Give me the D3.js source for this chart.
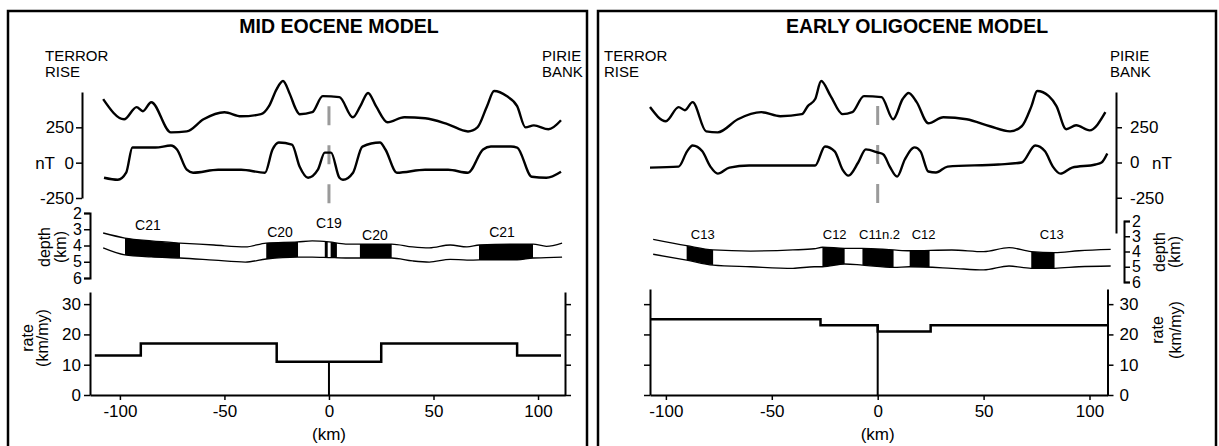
<!DOCTYPE html>
<html>
<head>
<meta charset="utf-8">
<script src="https://cdn.jsdelivr.net/npm/d3@7"></script>
<style>
  body { margin: 0; background: #fff; }
  svg { font-family: "Liberation Sans", Arial, Helvetica, sans-serif; }
</style>
</head>
<body>
<svg width="1219" height="446"></svg>
<script>
(function (d3) {
  'use strict';

  // ---- values ----
  var kmTicks = [-100, -50, 0, 50, 100],
      magTicks = [-250, 0, 250],
      depthTicks = [2, 3, 4, 5, 6],
      rateTicks = [0, 10, 20, 30];

  // mid eocene: [km, nT]
  var eoceneObserved = [[-108, 450], [-98, 307], [-92, 393], [-89, 364], [-85, 428], [-75.6, 214],
    [-68, 221], [-60, 307], [-50, 357], [-42, 328], [-32.5, 343], [-28.7, 400], [-25, 521],
    [-22, 578], [-18.7, 485], [-15.8, 378], [-14, 343], [-8, 357], [-3, 471], [5, 464],
    [11.4, 321], [15, 400], [18.7, 493], [22.5, 400], [28, 286], [36, 321], [46, 314],
    [57, 271], [66.5, 221], [71, 250], [75.6, 400], [79, 507], [85, 471], [90, 400],
    [94, 250], [98, 264], [105, 236], [111, 300]];
  var eoceneModel = [[-107.6, -107], [-101, -121], [-97, -71], [-94, 107], [-90, 107], [-83, 107],
    [-75.6, 121], [-72.7, 93], [-68, -50], [-65, -71], [-53, -50], [-42, -50], [-30.6, -71],
    [-27, 93], [-24, 143], [-17.7, 128], [-14, -29], [-10, -107], [-5.3, -50], [-2, 71],
    [1, 71], [5, -107], [6.7, -121], [11.5, -71], [16, 114], [24.4, 143], [27, 93],
    [32.5, -71], [46, -50], [57, -50], [66.5, -71], [73.7, 93], [77.5, 114], [87, 114],
    [90, 107], [97, -100], [104, -107], [111, -64]];
  // [km, top depth, bottom depth] of the magnetised layer
  var eoceneLayer = [[-108, 3.23, 4.15], [-97.6, 3.54, 4.58], [-85, 3.72, 4.70], [-71.3, 3.85, 4.77],
    [-55, 3.97, 4.90], [-40, 4.09, 5.02], [-30, 3.85, 4.83], [-15, 3.78, 4.71], [-8, 3.72, 4.71],
    [0, 3.78, 4.74], [8, 3.91, 4.77], [30, 3.91, 4.77], [40, 4.09, 4.95], [48, 4.15, 5.02],
    [58, 3.97, 4.85], [66, 4.09, 4.90], [72, 3.97, 4.89], [90, 3.91, 4.89], [97.6, 3.91, 4.77],
    [104, 4.05, 4.75], [111.5, 3.85, 4.71]];
  var eoceneBlocks = [[-97.6, -71.3], [-30, -14.8], [-2, -0.6], [0.8, 3.8], [14.8, 30], [71.8, 97.6]];
  var eoceneChrons = [["C21", -86.6], ["C20", -23.4], ["C19", 0], ["C20", 22], ["C21", 82.8]];
  var eoceneRate = [[-112, 13], [-90, 17], [-25, 11], [25, 17], [90, 13], [111, 13]];
  var eoceneRidgeRate = 11;

  // early oligocene
  var oligoObserved = [[-107.5, 393], [-100, 293], [-94, 393], [-91, 371], [-87.4, 428], [-81, 221],
    [-75.5, 214], [-66, 307], [-55, 357], [-46, 328], [-35.8, 343], [-33, 400], [-29.5, 450],
    [-26.7, 578], [-22.2, 471], [-16.6, 343], [-12, 357], [-6.5, 471], [1.8, 464], [7.3, 307],
    [11.8, 450], [14.6, 493], [18.4, 428], [23.9, 278], [31, 321], [42, 307], [53, 257],
    [62.5, 221], [68, 257], [72.6, 400], [75.3, 507], [80.8, 471], [84.4, 400], [89, 236],
    [93.7, 264], [100, 228], [107.5, 357]];
  var oligoModel = [[-107.5, -36], [-94, -29], [-90, 79], [-87.4, 121], [-82.8, 79], [-79, -29],
    [-75.5, -79], [-70, -36], [-60.7, -21], [-44, -21], [-29.5, -21], [-24.9, 114], [-20.3, 79],
    [-16.6, -50], [-13.8, -93], [-9.2, 0], [-5.6, 93], [0, 71], [2.7, 57], [5.7, -29],
    [9.2, -100], [12.8, 21], [17.4, 107], [20.2, 79], [23.9, -64], [27.5, -71], [33, -29],
    [57, -14], [68, 0], [74.4, 121], [79, 79], [82.7, -29], [86.3, -79], [91.8, -36],
    [102.8, -14], [105.7, 0], [108.4, 64]];
  var oligoLayer = [[-106, 3.20, 4.18], [-90.2, 3.62, 4.56], [-77.7, 3.90, 4.89], [-60, 3.97, 5.00],
    [-40, 3.90, 5.10], [-30, 3.82, 5.00], [-26, 3.72, 5.00], [-15.6, 3.79, 4.82], [-7.2, 3.79, 4.89],
    [7.5, 3.90, 5.04], [15, 3.95, 5.00], [35, 3.90, 5.10], [50, 4.01, 5.21], [62, 3.75, 4.95],
    [72.5, 4.01, 5.10], [83.5, 4.08, 5.10], [95, 3.95, 5.00], [110, 3.86, 4.95]];
  var oligoBlocks = [[-90.2, -77.7], [-26.1, -15.6], [-7.2, 7.5], [15.1, 24.5], [72.5, 83.5]];
  var oligoChrons = [["C13", -82.6], ["C12", -20.3], ["C11n.2", 0.9], ["C12", 21.7], ["C13", 82.2]];
  var oligoRate = [[-107.5, 25], [-27, 23], [0, 21], [25, 23], [108.5, 23]];
  var oligoRidgeRate = 23;

  var ridgeDash = [400, -320];   // nT extent of the grey ridge marker

  // ---- layout ----
  var panels = [
    {
      id: "eo", frame: [8, 11, 579, 450], title: "MID EOCENE MODEL", titleX: 339,
      leftSiteX: 45, rightSiteX: 542,
      xDomain: [-114.3, 112.9], xRange: [90, 565],
      magDomain: [-250, 500], magRange: [198, 92], magX: 82, side: "left",
      depRange: [213, 278], depX: 90,
      rateDomain: [0, 34], rateRange: [395, 292],
      chronY: [230, 237, 228, 240, 237],
      observed: eoceneObserved, model: eoceneModel, layer: eoceneLayer, blocks: eoceneBlocks,
      chrons: eoceneChrons, rate: eoceneRate, ridgeRate: eoceneRidgeRate,
      nT: [55, "end"], depthLab: [50, 66, 247], rateLab: [33, 48, 338]
    },
    {
      id: "ol", frame: [598, 11, 618, 450], title: "EARLY OLIGOCENE MODEL", titleX: 917,
      leftSiteX: 604, rightSiteX: 1110,
      xDomain: [-107.5, 108.5], xRange: [650, 1107.5],
      magDomain: [-500, 500], magRange: [233, 92], magX: 1116, side: "right",
      depRange: [221, 282], depX: 1124,
      rateDomain: [0, 35], rateRange: [395, 289],
      chronY: [239, 239, 239, 239, 239],
      observed: oligoObserved, model: oligoModel, layer: oligoLayer, blocks: oligoBlocks,
      chrons: oligoChrons, rate: oligoRate, ridgeRate: oligoRidgeRate,
      nT: [1152, "start"], depthLab: [1165, 1180, 252], rateLab: [1163, 1181, 330]
    }
  ];

  var svg = d3.select("svg");
  var plain = function (d) { return String(d); };   // hyphen minus, no decimals

  function styleAxis(sel, size) {
    sel.attr("font-size", size).attr("font-family", null);
    sel.selectAll("text").attr("fill", "#000");
    sel.select(".domain").attr("stroke", "#000").attr("stroke-width", 2);
    sel.selectAll(".tick line").attr("stroke", "#000").attr("stroke-width", 1.5);
  }

  function vText(g, txt, x, y) {
    g.append("text")
      .attr("transform", "translate(" + x + "," + y + ") rotate(-90)")
      .attr("text-anchor", "middle")
      .attr("font-size", 16)
      .text(txt);
  }

  panels.forEach(function (p) {
    var g = svg.append("g");

    var x = d3.scaleLinear().domain(p.xDomain).range(p.xRange),
        yMag = d3.scaleLinear().domain(p.magDomain).range(p.magRange),
        yDep = d3.scaleLinear().domain([2, 6]).range(p.depRange),
        yRate = d3.scaleLinear().domain(p.rateDomain).range(p.rateRange);

    g.append("rect")
      .attr("x", p.frame[0]).attr("y", p.frame[1])
      .attr("width", p.frame[2]).attr("height", p.frame[3])
      .attr("fill", "none").attr("stroke", "#000").attr("stroke-width", 2.5);

    g.append("text")
      .attr("x", p.titleX).attr("y", 33)
      .attr("text-anchor", "middle")
      .attr("font-size", 19.5).attr("font-weight", "bold")
      .text(p.title);

    [["TERROR", "RISE", p.leftSiteX], ["PIRIE", "BANK", p.rightSiteX]].forEach(function (s) {
      g.append("text").attr("x", s[2]).attr("y", 61).attr("font-size", 15).text(s[0]);
      g.append("text").attr("x", s[2]).attr("y", 77).attr("font-size", 15).text(s[1]);
    });

    // magnetic anomalies
    var magLine = d3.line()
      .x(function (d) { return x(d[0]); })
      .y(function (d) { return yMag(d[1]); })
      .curve(d3.curveMonotoneX);

    g.append("line")
      .attr("x1", x(0)).attr("x2", x(0))
      .attr("y1", yMag(ridgeDash[0])).attr("y2", yMag(ridgeDash[1]))
      .attr("stroke", "#9a9a9a").attr("stroke-width", 3)
      .attr("stroke-dasharray", "19 20");

    [p.observed, p.model].forEach(function (series) {
      g.append("path").datum(series)
        .attr("d", magLine)
        .attr("fill", "none").attr("stroke", "#000")
        .attr("stroke-width", 2.4).attr("stroke-linejoin", "round");
    });

    var magAxis = (p.side === "left" ? d3.axisLeft(yMag) : d3.axisRight(yMag))
      .tickValues(magTicks).tickFormat(plain).tickSize(6).tickSizeOuter(0)
      .tickPadding(p.side === "left" ? 2 : 8);
    g.append("g").attr("transform", "translate(" + p.magX + ",0)")
      .call(magAxis).call(styleAxis, 17);
    g.append("text")
      .attr("x", p.nT[0]).attr("y", yMag(0) + 6)
      .attr("text-anchor", p.nT[1]).attr("font-size", 17)
      .text("nT");

    // crustal layer with normal polarity blocks
    var area = d3.area()
      .x(function (d) { return x(d[0]); })
      .y0(function (d) { return yDep(d[2]); })
      .y1(function (d) { return yDep(d[1]); })
      .curve(d3.curveMonotoneX);

    g.append("path").datum(p.layer).attr("d", area).attr("fill", "#fff");

    p.blocks.forEach(function (b, i) {
      var cid = p.id + "-blk-" + i;
      g.append("clipPath").attr("id", cid)
        .append("rect")
        .attr("x", x(b[0])).attr("width", x(b[1]) - x(b[0]))
        .attr("y", p.depRange[0] - 10).attr("height", p.depRange[1] - p.depRange[0] + 20);
      g.append("path").datum(p.layer)
        .attr("d", area).attr("fill", "#000")
        .attr("clip-path", "url(#" + cid + ")");
    });

    [1, 2].forEach(function (k) {
      g.append("path").datum(p.layer)
        .attr("d", d3.line()
          .x(function (d) { return x(d[0]); })
          .y(function (d) { return yDep(d[k]); })
          .curve(d3.curveMonotoneX))
        .attr("fill", "none").attr("stroke", "#000").attr("stroke-width", 1.3);
    });

    g.selectAll(null).data(p.chrons).enter().append("text")
      .attr("x", function (d) { return x(d[1]); })
      .attr("y", function (d, i) { return p.chronY[i]; })
      .attr("text-anchor", "middle")
      .attr("font-size", p.id === "eo" ? 14 : 13)
      .text(function (d) { return d[0]; });

    var depAxis = (p.side === "left" ? d3.axisLeft(yDep) : d3.axisRight(yDep))
      .tickValues(depthTicks).tickFormat(plain).tickSize(6).tickSizeOuter(6).tickPadding(2);
    g.append("g").attr("transform", "translate(" + p.depX + ",0)")
      .call(depAxis).call(styleAxis, 16);
    vText(g, "depth", p.depthLab[0], p.depthLab[2]);
    vText(g, "(km)", p.depthLab[1], p.depthLab[2]);

    // spreading rate
    var x0 = p.xRange[0], x1 = p.xRange[1];
    var labelled = p.side === "left" ? d3.axisLeft(yRate) : d3.axisRight(yRate),
        bare = p.side === "left" ? d3.axisRight(yRate) : d3.axisLeft(yRate);
    labelled.tickValues(rateTicks).tickFormat(plain).tickSize(6).tickSizeOuter(0)
      .tickPadding(p.side === "left" ? 3 : 6);
    bare.tickValues(rateTicks).tickSize(6).tickSizeOuter(0).tickFormat("");

    g.append("g").attr("transform", "translate(" + (p.side === "left" ? x0 : x1) + ",0)")
      .call(labelled).call(styleAxis, 17);
    g.append("g").attr("transform", "translate(" + (p.side === "left" ? x1 : x0) + ",0)")
      .call(bare).call(styleAxis, 17);

    g.append("g").attr("transform", "translate(0," + p.rateRange[0] + ")")
      .call(d3.axisBottom(x).tickValues(kmTicks).tickFormat(plain)
        .tickSize(5).tickSizeOuter(0).tickPadding(5))
      .call(styleAxis, 17);

    g.append("path").datum(p.rate)
      .attr("d", d3.line()
        .x(function (d) { return x(d[0]); })
        .y(function (d) { return yRate(d[1]); })
        .curve(d3.curveStepAfter))
      .attr("fill", "none").attr("stroke", "#000").attr("stroke-width", 2.5);

    g.append("line")
      .attr("x1", x(0)).attr("x2", x(0))
      .attr("y1", yRate(p.ridgeRate)).attr("y2", yRate(0))
      .attr("stroke", "#000").attr("stroke-width", 2);

    vText(g, "rate", p.rateLab[0], p.rateLab[2]);
    vText(g, "(km/my)", p.rateLab[1], p.rateLab[2]);

    g.append("text")
      .attr("x", x(0)).attr("y", 440)
      .attr("text-anchor", "middle").attr("font-size", 17)
      .text("(km)");
  });

}(d3));
</script>
</body>
</html>
